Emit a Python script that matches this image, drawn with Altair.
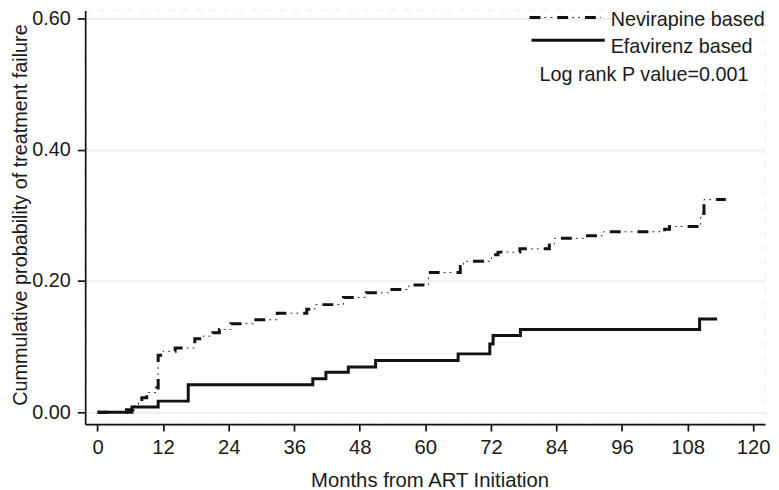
import altair as alt
import pandas as pd

# ---- data ----
nev_months = [0, 5.3, 6.5, 7.5, 8.1, 9.0, 10.8, 11.1, 12.0, 14.2, 17.8, 19.0, 21.1, 22.3,
              24.4, 28.7, 32.9, 38.3, 39.8, 45.0, 49.2, 53.3, 57.0, 60.6, 66.4, 67.0,
              72.1, 73.3, 77.3, 82.7, 83.6, 89.3, 92.6, 103.8, 104.7, 110.4, 111.0, 115.0]
nev_prob = [0, 0.004, 0.010, 0.016, 0.022, 0.030, 0.037, 0.087, 0.093, 0.098, 0.112, 0.116,
            0.121, 0.126, 0.135, 0.141, 0.151, 0.157, 0.164, 0.175, 0.182, 0.187, 0.194,
            0.213, 0.222, 0.230, 0.240, 0.244, 0.249, 0.255, 0.265, 0.269, 0.275, 0.279,
            0.283, 0.303, 0.324, 0.324]

efv_months = [0, 6.3, 11.1, 16.6, 39.4, 41.8, 45.9, 50.9, 66.0, 71.8, 72.4, 77.4, 110.2, 113.4]
efv_prob = [0, 0.008, 0.017, 0.042, 0.051, 0.061, 0.069, 0.079, 0.089, 0.104, 0.117, 0.126,
            0.142, 0.142]

series_names = ["Nevirapine based", "Efavirenz based"]
pvalue_text = ["Log rank P value=0.001"]

x_ticks = [0, 12, 24, 36, 48, 60, 72, 84, 96, 108, 120]
y_ticks = [0.0, 0.2, 0.4, 0.6]

x_title = "Months from ART Initiation"
y_title = "Cummulative probability of treatment  failure"

FONT = "Liberation Sans"
INK = "#111111"
TXT = "#1a1a1a"

nev = pd.DataFrame({"month": nev_months, "prob": nev_prob, "group": series_names[0]})
efv = pd.DataFrame({"month": efv_months, "prob": efv_prob, "group": series_names[1]})

xscale = alt.Scale(domain=[-2.26, 122.18], nice=False, zero=False)
yscale = alt.Scale(domain=[-0.0181, 0.6121], nice=False, zero=False)

x_enc = alt.X("month:Q", scale=xscale,
              axis=alt.Axis(values=x_ticks, format="d", title=x_title, grid=False,
                            tickSize=7, labelPadding=7, labelFlush=False,
                            labelFont=FONT, labelFontSize=20.5, labelColor=TXT,
                            titleFont=FONT, titleFontSize=20.5, titleFontWeight="normal",
                            titleColor=TXT,
                            domainColor=INK, domainWidth=1.7, tickColor=INK, tickWidth=1.7,
                            titleX=348, titleY=63, titleAlign="center",
                            titleBaseline="alphabetic"))
y_enc = alt.Y("prob:Q", scale=yscale,
              axis=alt.Axis(values=y_ticks, format=".2f", title=y_title, grid=True,
                            gridColor="#e8f0f2", gridWidth=2,
                            tickSize=8, labelPadding=7,
                            labelFont=FONT, labelFontSize=20, labelColor=TXT,
                            titleFont=FONT, titleFontSize=20, titleFontWeight="normal",
                            titleColor=TXT,
                            domainColor=INK, domainWidth=1.7, tickColor=INK, tickWidth=1.7,
                            titleAngle=270, titleAlign="left", titleBaseline="alphabetic",
                            titleX=-59, titleY=399))

nev_thick = alt.Chart(nev).mark_line(
    interpolate="step-after", color=INK, strokeWidth=3, strokeDash=[11, 17]
).encode(x=x_enc, y=y_enc)
nev_thin = alt.Chart(nev).mark_line(
    interpolate="step-after", color="#333333", strokeWidth=1,
    strokeDash=[2, 4, 2, 20], strokeDashOffset=13
).encode(x="month:Q", y="prob:Q")
efv_line = alt.Chart(efv).mark_line(
    interpolate="step-after", color=INK, strokeWidth=3
).encode(x="month:Q", y="prob:Q")

one = pd.DataFrame({"k": [0]})
leg_nev_thick = alt.Chart(one).mark_rule(color=INK, strokeWidth=3, strokeDash=[11, 17]).encode(
    x=alt.value(449), x2=alt.value(521), y=alt.value(7))
leg_nev_thin = alt.Chart(one).mark_rule(color="#333333", strokeWidth=1,
                                        strokeDash=[2, 4, 2, 20], strokeDashOffset=13).encode(
    x=alt.value(449), x2=alt.value(521), y=alt.value(7))
leg_efv = alt.Chart(one).mark_rule(color=INK, strokeWidth=3).encode(
    x=alt.value(451), x2=alt.value(525), y=alt.value(30))

leg_text_df = pd.DataFrame({"label": series_names})
leg_text1 = alt.Chart(leg_text_df.iloc[[0]]).mark_text(
    font=FONT, fontSize=20, color=TXT, align="left", baseline="alphabetic"
).encode(x=alt.value(531), y=alt.value(16), text="label:N")
leg_text2 = alt.Chart(leg_text_df.iloc[[1]]).mark_text(
    font=FONT, fontSize=20, color=TXT, align="left", baseline="alphabetic"
).encode(x=alt.value(531), y=alt.value(43), text="label:N")
pv = alt.Chart(pd.DataFrame({"label": pvalue_text})).mark_text(
    font=FONT, fontSize=20, color=TXT, align="left", baseline="alphabetic"
).encode(x=alt.value(459), y=alt.value(71), text="label:N")

chart = alt.layer(
    nev_thick, nev_thin, efv_line,
    leg_nev_thick, leg_nev_thin, leg_efv, leg_text1, leg_text2, pv
).properties(
    width=687, height=418,
    background="white",
    autosize=alt.AutoSizeParams(type="none"),
    padding={"left": 78, "top": 0, "right": 6, "bottom": 64},
).configure_view(
    stroke="#eef2f4", strokeWidth=1.5, strokeDash=[6, 8]
)

chart.save("out.html", embed_options={"renderer": "svg", "actions": False})
